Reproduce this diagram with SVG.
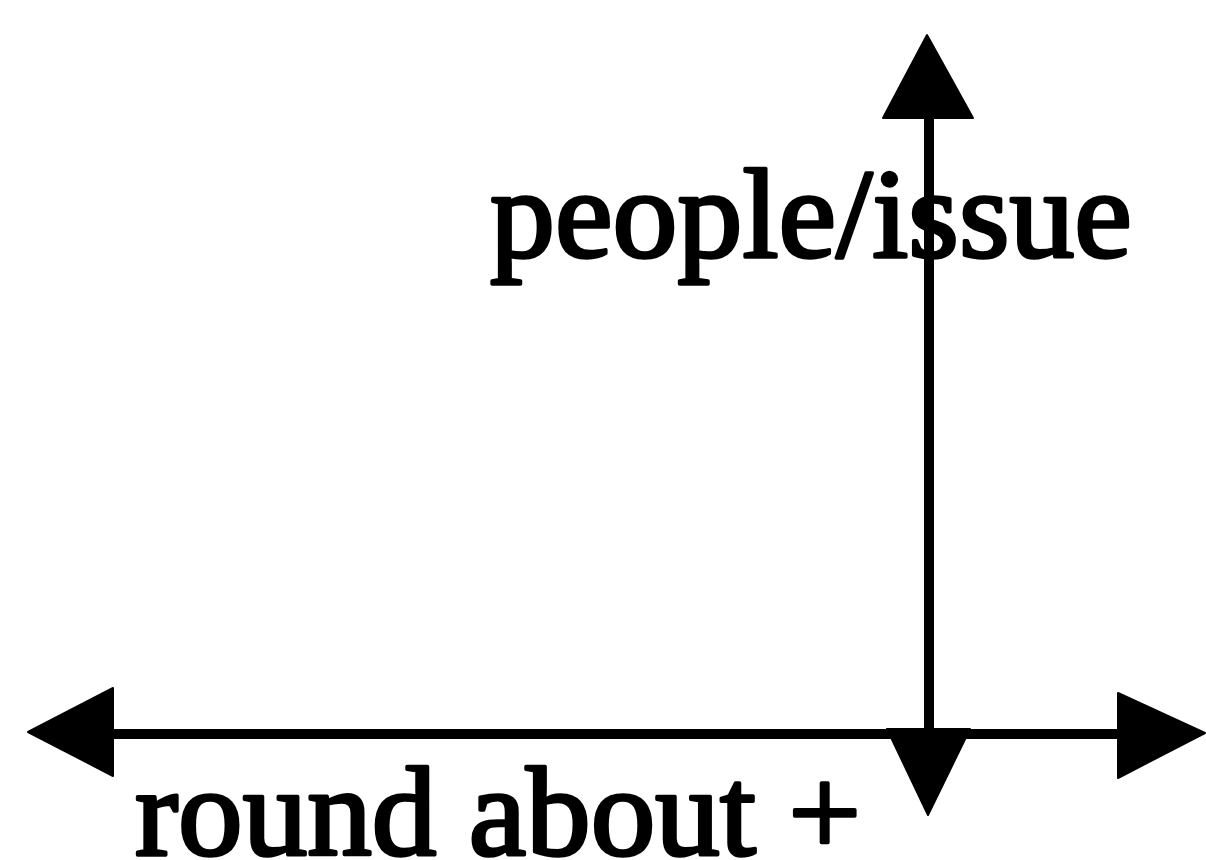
<svg xmlns="http://www.w3.org/2000/svg" width="1206" height="860" viewBox="0 0 1206 860">
<style>
.ax{stroke:#000;stroke-width:10;fill:none}
.hd{fill:#000;stroke:#000;stroke-width:2;stroke-linejoin:round}
.lb{font-family:"Liberation Serif","Times New Roman",serif;font-size:128px;fill:#000;stroke:#000;stroke-width:3.5;stroke-linejoin:round}
</style>
<rect width="1206" height="860" fill="#fff"/>
<g id="connectors">
<line class="ax" x1="110" y1="734" x2="1120" y2="734"/>
<line class="ax" x1="929" y1="115" x2="929" y2="734"/>
<polygon class="hd" points="927,35 883,118 973,118"/>
<polygon class="hd" points="28,732 113,688 113,776"/>
<polygon class="hd" points="1205,733 1118,693 1118,778"/>
<polygon class="hd" points="887,729 970,729 928,815"/>
</g>
<g id="label-people">
<text class="lb" x="490" y="257" textLength="642" lengthAdjust="spacingAndGlyphs">people/issue</text>
</g>
<g id="label-round">
<text class="lb" x="135" y="855" textLength="726" lengthAdjust="spacingAndGlyphs">round about +</text>
</g>
</svg>
